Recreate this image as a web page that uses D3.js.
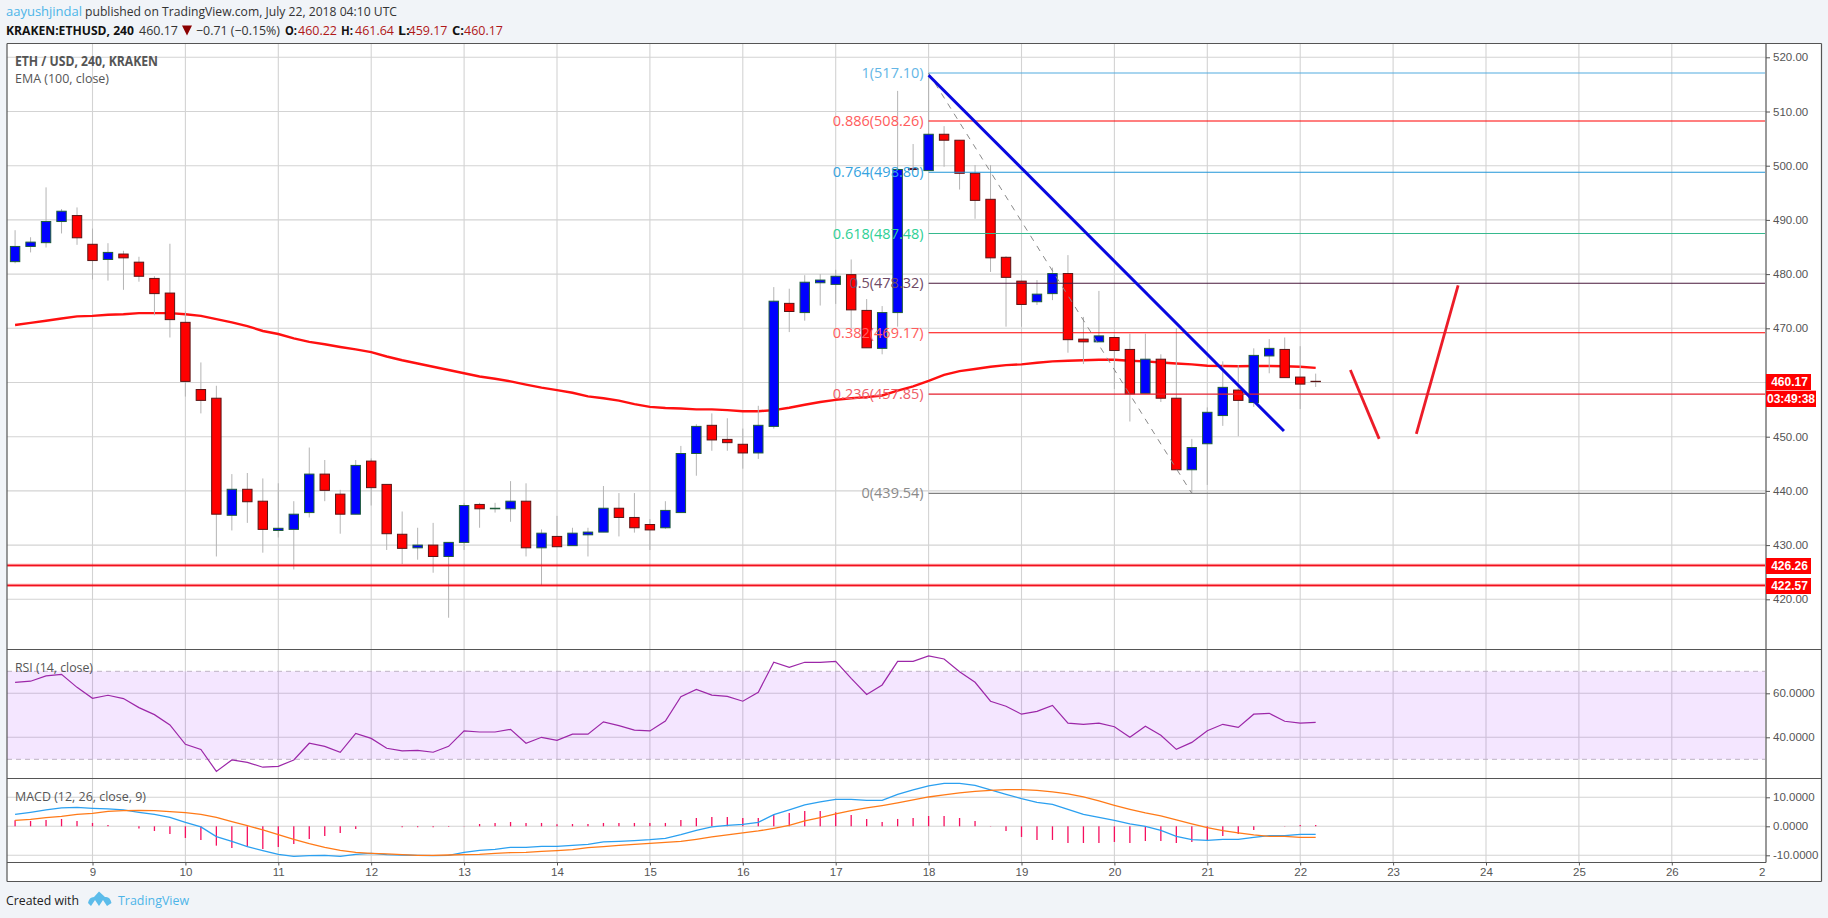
<!DOCTYPE html>
<html><head><meta charset="utf-8">
<script src="https://cdnjs.cloudflare.com/ajax/libs/d3/7.8.5/d3.min.js"></script>
<style>html,body{margin:0;padding:0;background:#f1f4f8;overflow:hidden}svg{display:block}</style>
</head><body><svg id="c" width="1828" height="918"></svg>
<script>
const opens=[482.3,485.1,485.8,489.7,490.8,485.5,482.7,483.7,482.2,479.2,476.5,471.1,458.7,457.1,435.5,440.3,438.1,432.7,432.9,436.0,443.1,439.4,435.7,445.5,441.2,432.0,429.5,430.0,427.9,430.5,437.5,436.7,436.7,438.1,429.5,431.6,429.9,431.9,432.4,436.8,435.1,433.8,433.2,436.0,446.9,452.1,449.5,448.6,447.0,451.9,474.6,472.9,478.4,478.1,479.9,473.3,466.3,472.9,499.5,499.1,505.8,504.7,498.6,493.8,483.1,478.7,474.9,476.4,480.1,468.0,467.5,468.3,466.1,458.0,464.3,457.1,443.9,448.7,453.9,458.6,456.3,464.9,466.1,461.0,460.22];
const highs=[488.1,486.8,496.0,492.0,492.3,488.4,485.7,484.3,483.2,479.6,485.6,473.1,463.7,459.4,443.1,443.3,442.3,441.4,438.1,448.0,445.7,440.2,445.7,446.0,441.2,436.2,433.2,434.1,430.5,437.8,437.8,437.8,441.8,441.4,432.9,435.4,433.2,433.2,440.9,439.6,439.6,434.8,438.1,448.3,452.3,454.3,453.4,451.5,455.7,477.6,477.3,479.8,480.0,480.8,482.7,475.4,474.1,513.8,504.0,517.1,507.3,504.7,500.1,500.1,483.3,478.7,478.9,481.2,483.5,472.1,476.9,468.7,469.0,469.0,465.2,470.0,449.6,455.4,463.9,463.2,466.3,468.0,468.3,466.7,461.64];
const lows=[482.0,484.0,484.9,487.5,485.4,479.0,478.8,477.1,478.6,472.4,468.3,457.4,454.3,427.9,432.7,434.1,428.6,431.4,425.5,435.1,438.1,432.1,435.7,437.3,429.1,426.5,427.3,424.9,416.6,429.1,433.2,436.0,434.3,427.9,422.6,429.7,429.9,427.9,432.4,431.6,432.3,429.1,433.0,436.0,442.8,447.4,447.4,444.1,445.9,451.5,469.3,471.4,474.2,474.5,470.0,466.4,465.2,470.3,498.9,499.1,499.8,495.6,490.2,480.4,470.3,470.3,474.3,475.2,465.5,463.4,467.5,458.8,452.8,458.0,456.4,443.9,439.6,441.1,452.0,450.1,455.5,461.7,460.9,455.1,459.17];
const closes=[485.1,485.9,489.7,491.6,486.7,482.5,484.0,483.0,479.6,476.4,471.6,460.2,456.7,435.7,440.3,438.0,432.9,433.1,435.7,443.1,440.1,435.7,444.7,440.6,432.1,429.4,430.0,427.9,430.5,437.3,436.7,436.8,438.1,429.5,432.2,429.7,432.2,432.4,436.8,435.1,433.2,432.8,436.4,446.9,451.9,449.4,448.9,447.0,452.1,475.0,473.1,478.5,478.9,479.6,473.4,466.4,472.9,499.3,499.3,505.8,504.7,498.6,493.6,483.0,479.4,474.4,476.3,480.1,467.9,467.5,468.6,465.9,457.9,464.3,457.1,443.9,448.0,454.5,459.1,456.7,465.0,466.3,460.9,459.7,460.17];
const ema=[470.6,471.0,471.4,471.8,472.2,472.3,472.5,472.6,472.8,472.8,472.8,472.6,472.3,471.7,471.1,470.4,469.5,468.95,468.15,467.5,467.05,466.55,466.1,465.6,464.8,464.1,463.5,462.9,462.3,461.7,461.1,460.7,460.2,459.6,459.05,458.6,458.1,457.45,457.1,456.65,456.0,455.5,455.3,455.2,455.05,455.05,454.9,454.7,454.7,454.9,455.35,455.9,456.4,456.8,457.1,457.3,457.6,458.5,459.3,460.3,461.4,462.1,462.5,462.9,463.2,463.35,463.65,463.9,464.0,464.1,464.2,464.2,464.0,463.9,463.7,463.5,463.35,463.1,463.05,463.0,463.05,463.05,463.0,462.9,462.7];
const rsi=[65.0,65.5,67.9,68.6,62.7,57.7,59.1,57.6,53.5,50.3,45.6,36.8,34.5,24.5,29.7,28.6,26.4,26.8,29.7,37.3,35.9,33.2,41.8,39.5,35.0,33.8,34.1,33.2,35.9,42.9,42.4,42.4,43.6,37.3,40.0,38.6,41.4,41.4,47.0,45.3,43.3,42.9,47.4,58.5,61.8,59.2,58.6,56.4,60.5,74.1,71.8,74.1,74.1,74.5,66.8,59.5,63.8,74.5,74.5,77.0,75.6,69.8,65.0,56.4,54.1,50.5,51.8,54.5,46.4,45.9,46.4,44.8,40.0,45.0,40.9,34.5,37.7,43.0,45.9,44.5,50.5,50.9,47.3,46.4,46.8];
const macd=[4.14,4.83,5.63,6.32,6.55,6.21,5.98,5.63,4.83,4.14,3.10,1.38,-0.23,-3.56,-5.17,-7.01,-8.39,-9.66,-10.34,-10.11,-10.0,-10.34,-9.66,-9.31,-9.77,-9.89,-10.0,-10.11,-10.0,-8.97,-8.28,-7.93,-7.24,-7.24,-6.90,-6.90,-6.55,-6.21,-5.40,-5.17,-4.94,-4.60,-4.14,-2.87,-1.38,-0.23,0.34,0.69,1.38,4.02,5.63,7.36,8.39,9.31,9.31,8.97,8.97,11.03,12.53,13.91,14.83,14.83,14.14,12.53,11.03,9.54,8.28,7.59,5.86,4.14,3.10,2.07,0.80,0,-1.38,-3.45,-4.60,-4.83,-4.48,-4.48,-3.79,-3.22,-3.22,-2.76,-2.76];
const signal=[2.07,2.41,2.99,3.45,4.14,4.48,5.17,5.40,5.52,5.40,5.06,4.71,4.14,3.10,1.61,0.23,-1.26,-2.87,-4.48,-5.98,-7.24,-8.28,-8.97,-9.31,-9.54,-9.77,-10,-10,-9.89,-9.77,-9.66,-9.31,-9.08,-8.97,-8.62,-8.39,-8.05,-7.36,-7.01,-6.55,-6.21,-5.86,-5.52,-5.17,-4.48,-3.68,-2.99,-2.30,-1.61,-0.69,0.34,1.84,2.99,4.25,5.40,6.32,7.13,8.05,9.08,10.11,10.80,11.49,12.07,12.41,12.64,12.64,12.41,11.84,11.15,10.11,8.74,7.24,5.86,4.60,3.56,2.18,0.80,-0.46,-1.49,-2.30,-2.99,-3.45,-3.45,-3.79,-3.79];
const hist=[2.07,1.84,2.18,2.53,1.84,1.15,0.46,0,-0.8,-1.61,-2.64,-4.02,-4.71,-6.67,-7.47,-7.01,-7.82,-7.13,-6.09,-4.37,-3.33,-2.30,-0.92,0,0,-0.3,-0.3,-0.3,-0.2,0.1,0.8,1.15,1.49,1.15,1.15,0.69,0.8,0.8,1.15,1.15,1.15,1.15,1.15,2.18,2.87,3.22,3.22,2.87,2.87,4.14,4.6,5.29,5.29,4.83,3.91,2.53,1.49,2.53,2.87,3.56,3.56,2.87,1.84,0.1,-1.61,-3.68,-4.71,-4.71,-5.75,-5.75,-5.75,-5.4,-5.75,-5.06,-5.06,-5.75,-5.4,-4.71,-3.33,-2.64,-1.26,0,0.1,0.46,0.46];
const dayTicks=[9,10,11,12,13,14,15,16,17,18,19,20,21,22,23,24,25,26,27];
const priceTicks=[420,430,440,450,460,470,480,490,500,510,520];
const rsiTicks=[40,60];
const macdTicks=[-10,0,10];
const fibRatios=["1","0.886","0.764","0.618","0.5","0.382","0.236","0"];
const fibPrices=[517.10,508.26,498.80,487.48,478.32,469.17,457.85,439.54];
const fibColors=["#52ace0","#ff0000","#2196d8","#36b98e","#4a1a3c","#ff0000","#e5202e","#808080"];
const fibTextColors=["#63b6e6","#ff5c5c","#35a3e0","#2fd096","#6f4a66","#ff5c5c","#ee5b66","#8a8a8a"];
const levelPrices=[426.26,422.57];
const firstBarDay=8+1/6, barsPerDay=6;
const trendDays=[18,21.825], trendPrices=[516.7,451.05];
const swingDays=[18,20.8333], swingPrices=[517.1,439.54];
const arrowDownDays=[22.54,22.85], arrowDownPrices=[462.3,449.6];
const arrowUpDays=[23.25,23.70], arrowUpPrices=[450.5,477.9];

const barDays=opens.map((_,i)=>firstBarDay+i/barsPerDay);
const L=7,R=1766,OUT=1821.5,TOP=43.5,P1=649.5,P2=778.5,P3=862.5,B=881.5;
const x=d3.scaleLinear().domain([9,22]).range([92.5,1300.2]);
const y=d3.scaleLinear().domain([520,420]).range([57.3,599.3]);
const yR=d3.scaleLinear().domain([60,40]).range([693.3,737.3]);
const yM=d3.scaleLinear().domain([10,-10]).range([797.3,855.3]);
const svg=d3.select("#c");
const SANS="'Liberation Sans',Arial,sans-serif", UI="'Open Sans',sans-serif";
svg.append("rect").attr("x",L).attr("y",TOP).attr("width",OUT-L).attr("height",B-TOP).attr("fill","#fff");

const grid=svg.append("g").attr("stroke","#d3d3d3").attr("stroke-width",1.1);
grid.selectAll(".v").data(dayTicks.slice(0,-1)).join("line").attr("x1",d=>x(d)).attr("x2",d=>x(d)).attr("y1",TOP).attr("y2",P3);
const hline=(s,t)=>grid.selectAll(null).data(t).join("line").attr("x1",L).attr("x2",R).attr("y1",d=>s(d)).attr("y2",d=>s(d));
hline(y,priceTicks);hline(yR,rsiTicks);hline(yM,macdTicks);

// RSI band
svg.append("rect").attr("x",L).attr("width",R-1-L).attr("y",yR(70)).attr("height",yR(30)-yR(70)).attr("fill","rgba(153,21,255,0.105)");
svg.selectAll(".rb").data([70,30]).join("line").attr("x1",L).attr("x2",R-1).attr("y1",d=>yR(d)).attr("y2",d=>yR(d)).attr("stroke","#bdb2c4").attr("stroke-width",1).attr("stroke-dasharray","5,4");

// EMA
const ln=s=>d3.line().x((d,i)=>x(barDays[i])).y(d=>s(d));
svg.append("path").attr("d",ln(y)(ema)).attr("fill","none").attr("stroke","#ff1010").attr("stroke-width",2.4);

// candles
const cg=svg.append("g");
const bw=9.4;
barDays.forEach((d,i)=>{
  const up=closes[i]>=opens[i],cx=x(d);
  cg.append("line").attr("x1",cx).attr("x2",cx).attr("y1",y(highs[i])).attr("y2",y(lows[i])).attr("stroke","#b4b4b4").attr("stroke-width",1);
  const t=y(Math.max(opens[i],closes[i])),b=y(Math.min(opens[i],closes[i]));
  cg.append("rect").attr("x",cx-bw/2).attr("width",bw).attr("y",t).attr("height",Math.max(b-t,0.3))
    .attr("fill",up?"#0000ff":"#ff0000").attr("stroke",up?"#1f5c3a":"#5a1414").attr("stroke-width",1);
});

// fib levels
fibPrices.forEach((p,i)=>{
  svg.append("line").attr("x1",x(18)).attr("x2",R-1).attr("y1",y(p)).attr("y2",y(p)).attr("stroke",fibColors[i]).attr("stroke-width",i==7?1.4:1.1);
  svg.append("text").attr("x",x(18)-5).attr("y",y(p)+5).attr("text-anchor","end").attr("font-family",UI).attr("font-size",14.5).attr("fill",fibTextColors[i]).text(fibRatios[i]+"("+p.toFixed(2)+")");
});
// horizontal supports
levelPrices.forEach(p=>{
  svg.append("line").attr("x1",L).attr("x2",R-1).attr("y1",y(p)).attr("y2",y(p)).attr("stroke","rgba(255,0,0,0.4)").attr("stroke-width",3.4);
  svg.append("line").attr("x1",L).attr("x2",R-1).attr("y1",y(p)).attr("y2",y(p)).attr("stroke","#f01020").attr("stroke-width",1.3);
});
// swing and trend
const seg=(ds,ps)=>d3.line()(ds.map((d,i)=>[x(d),y(ps[i])]));
svg.append("path").attr("d",seg(swingDays,swingPrices)).attr("fill","none").attr("stroke","#8a8a8a").attr("stroke-width",1).attr("stroke-dasharray","6,6");
svg.append("path").attr("d",seg(trendDays,trendPrices)).attr("fill","none").attr("stroke","#0808e0").attr("stroke-width",3);
svg.append("path").attr("d",seg(arrowDownDays,arrowDownPrices)).attr("fill","none").attr("stroke","#ec1c28").attr("stroke-width",2.8);
svg.append("path").attr("d",seg(arrowUpDays,arrowUpPrices)).attr("fill","none").attr("stroke","#ec1c28").attr("stroke-width",2.8);

// RSI
svg.append("path").attr("d",ln(yR)(rsi)).attr("fill","none").attr("stroke","#9c27a8").attr("stroke-width",1.2);
// MACD
const hg=svg.append("g").attr("stroke","#f5105f").attr("stroke-width",1.3);
hist.forEach((v,i)=>{ if(v!==0) hg.append("line").attr("x1",x(barDays[i])).attr("x2",x(barDays[i])).attr("y1",yM(0)).attr("y2",yM(v)); });
svg.append("path").attr("d",ln(yM)(macd)).attr("fill","none").attr("stroke","#2ba0f0").attr("stroke-width",1.3);
svg.append("path").attr("d",ln(yM)(signal)).attr("fill","none").attr("stroke","#ff7a18").attr("stroke-width",1.3);

// frames
const frame=(x1,y1,x2,y2)=>svg.append("line").attr("x1",x1).attr("y1",y1).attr("x2",x2).attr("y2",y2).attr("stroke","#555").attr("stroke-width",1.2);
frame(L,TOP,OUT,TOP);frame(L,P1,OUT,P1);frame(L,P2,OUT,P2);frame(L,P3,R,P3);frame(L,B,OUT,B);
frame(L,TOP,L,B);frame(OUT,TOP,OUT,B);frame(R,TOP,R,P3);

// axes
const style=g=>{g.select(".domain").remove();g.selectAll("line").attr("stroke","#555");g.selectAll("text").attr("font-family",SANS).attr("font-size",11.5).attr("fill","#555");};
svg.append("g").attr("transform",`translate(${R},0)`).call(d3.axisRight(y).tickValues(priceTicks).tickSize(4).tickPadding(3).tickFormat(d3.format(".2f"))).call(style);
const f4=d=>d.toFixed(4);
svg.append("g").attr("transform",`translate(${R},0)`).call(d3.axisRight(yR).tickValues(rsiTicks).tickSize(4).tickPadding(3).tickFormat(f4)).call(style);
svg.append("g").attr("transform",`translate(${R},0)`).call(d3.axisRight(yM).tickValues(macdTicks).tickSize(4).tickPadding(3).tickFormat(f4)).call(style);
const xa=svg.append("g").attr("transform",`translate(0,${P3})`).call(d3.axisBottom(x).tickValues(dayTicks).tickSize(3).tickPadding(2).tickFormat(d=>d==27?"2":d)).call(style);
xa.selectAll(".tick").filter(d=>d==27).select("text").attr("dx",-3);
xa.selectAll(".tick").filter(d=>d==27).select("line").remove();

// price tags
const tag=(y0,y1,xr,label,ty)=>{
  svg.append("rect").attr("x",R).attr("y",y0).attr("width",xr-R).attr("height",y1-y0).attr("fill","#ff0000");
  svg.append("text").attr("x",(R+xr)/2+(xr>1812?0:1)).attr("y",ty).attr("text-anchor","middle").attr("font-family",SANS).attr("font-size",12).attr("font-weight","bold").attr("fill","#fff").text(label);
};
tag(374,390,1811,"460.17",386.4);
tag(390.7,407,1816,"03:49:38",403.2);
tag(558,574,1811,levelPrices[0].toFixed(2),570.2);
tag(578,594,1811,levelPrices[1].toFixed(2),590.2);

// texts
const t=(xp,yp,s,o={})=>{const e=svg.append("text").attr("x",xp).attr("y",yp).attr("font-family",o.f||UI).attr("font-size",o.s||13).attr("font-weight",o.b?"bold":"normal").attr("fill",o.c||"#222").text(s);
  if(o.w)e.attr("textLength",o.w).attr("lengthAdjust","spacingAndGlyphs");return e;};
t(6,16,"aayushjindal",{c:"#4db4e8",w:76});
t(85,16,"published on TradingView.com, July 22, 2018 04:10 UTC",{c:"#333",w:312});
t(6,34.5,"KRAKEN:ETHUSD, 240",{b:1,c:"#111",w:128,s:11.8});
t(139,34.5,"460.17",{c:"#333",w:39});
svg.append("path").attr("d","M182,25.5H192L187,35.5Z").attr("fill","#8b0000");
t(196,34.5,"−0.71 (−0.15%)",{c:"#333",w:84});
[[285,"O:",298,"460.22"],[341,"H:",355,"461.64"],[398,"L:",408.5,"459.17"],[452,"C:",464,"460.17"]].forEach(a=>{
  t(a[0],34.5,a[1],{b:1,c:"#111",w:12});t(a[2],34.5,a[3],{c:"#b01818",w:39});});
t(15,65.5,"ETH / USD, 240, KRAKEN",{b:1,c:"#555",w:143,s:13.5});
t(15,82.5,"EMA (100, close)",{c:"#555",w:94,s:13.5});
t(15,671.5,"RSI (14, close)",{c:"#555",w:78,s:13.5});
t(15,800.5,"MACD (12, 26, close, 9)",{c:"#555",w:131,s:13.5});
t(6,904.5,"Created with",{c:"#222",w:73,s:13.5});
t(118,904.5,"TradingView",{c:"#4db4e8",w:71,s:13.5});
svg.append("path").attr("d","M88,903 Q89,897 94,897 L99,891.5 L105,897 Q110,896 111.5,903 L107,906 L103,900 L99,906 L95,900 L91,906 Z").attr("fill","#5cbcea");
</script></body></html>
